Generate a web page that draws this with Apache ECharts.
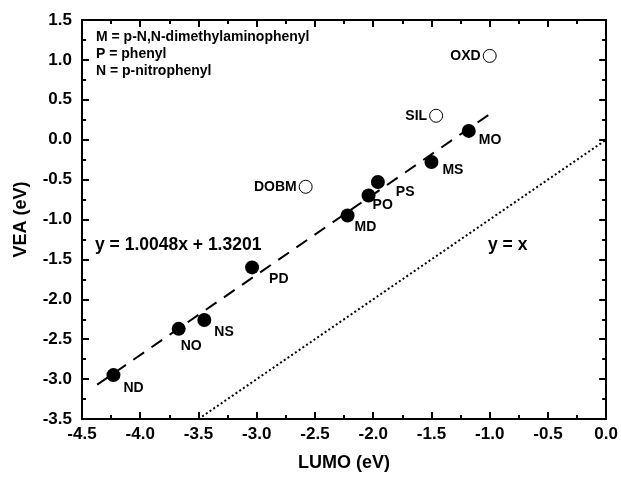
<!DOCTYPE html>
<html>
<head>
<meta charset="utf-8">
<script src="https://cdn.jsdelivr.net/npm/echarts@6/dist/echarts.min.js"></script>
<style>
  html, body { margin: 0; padding: 0; background: #fff; }
  #chart { width: 621px; height: 477px; }
</style>
</head>
<body>
<div id="chart"></div>
<script>
// compounds with filled markers
var filledNames = ['ND', 'NO', 'NS', 'PD', 'MD', 'PO', 'PS', 'MS', 'MO'];
var filledLumo = [-4.23, -3.67, -3.45, -3.04, -2.22, -2.04, -1.96, -1.50, -1.18];
var filledVea = [-2.95, -2.37, -2.26, -1.60, -0.95, -0.70, -0.53, -0.28, 0.11];

// compounds with open markers
var openNames = ['DOBM', 'SIL', 'OXD'];
var openLumo = [-2.58, -1.46, -1.00];
var openVea = [-0.59, 0.30, 1.05];

// fit line y = 1.0048x + 1.3201 and y = x
var fitLumo = [-4.37, -0.95];
var fitVea = [-3.07, 0.37];
var unityLumo = [-3.5, 0.0];
var unityVea = [-3.5, 0.0];

// label offsets (px from marker centre) for the filled points
var labelOffsets = [[10, 13], [2, 17], [10, 12], [17, 12], [7, 12], [4, 10], [18, 10], [11, 8], [10, 9]];

var font = 'Liberation Sans, Arial, sans-serif';

function pairs(xs, ys) {
  return xs.map(function (x, i) { return [x, ys[i]]; });
}

var filledData = filledLumo.map(function (x, i) {
  return {
    name: filledNames[i],
    value: [x, filledVea[i]],
    label: { offset: [labelOffsets[i][0] - 7, labelOffsets[i][1]] }
  };
});
var openData = openLumo.map(function (x, i) {
  return { name: openNames[i], value: [x, openVea[i]] };
});

function tickFmt(v) { return v.toFixed(1); }

function baseAxis(extra) {
  var ax = {
    type: 'value',
    interval: 0.5,
    axisLine: { show: true, onZero: false, lineStyle: { color: '#000', width: 2 } },
    axisTick: { show: true, inside: true, length: 7, lineStyle: { color: '#000', width: 2 } },
    minorTick: { show: true, splitNumber: 2, length: 4, lineStyle: { color: '#000', width: 2 } },
    splitLine: { show: false },
    axisLabel: { show: false }
  };
  for (var k in extra) ax[k] = extra[k];
  return ax;
}

var chart = echarts.init(document.getElementById('chart'));
var option = {
  animation: false,
  grid: { left: 82, right: 13, top: 20, bottom: 58 },
  xAxis: [
    baseAxis({
      min: -4.5, max: 0, position: 'bottom',
      name: 'LUMO (eV)', nameLocation: 'middle', nameGap: 35,
      nameTextStyle: { color: '#000', fontSize: 18, fontWeight: 'bold', fontFamily: font },
      axisLabel: { color: '#000', fontSize: 17, fontWeight: 'bold', fontFamily: font, margin: 7, formatter: tickFmt }
    }),
    baseAxis({ min: -4.5, max: 0, position: 'top' })
  ],
  yAxis: [
    baseAxis({
      min: -3.5, max: 1.5, position: 'left',
      name: 'VEA (eV)', nameLocation: 'middle', nameGap: 52,
      nameTextStyle: { color: '#000', fontSize: 18, fontWeight: 'bold', fontFamily: font },
      axisLabel: { color: '#000', fontSize: 17, fontWeight: 'bold', fontFamily: font, margin: 10, formatter: tickFmt }
    }),
    baseAxis({ min: -3.5, max: 1.5, position: 'right' })
  ],
  series: [
    {
      type: 'line', data: pairs(fitLumo, fitVea), symbol: 'none', z: 2,
      lineStyle: { color: '#000', width: 2, type: [13, 9] }
    },
    {
      type: 'line', data: pairs(unityLumo, unityVea), symbol: 'none', z: 2,
      lineStyle: { color: '#000', width: 2, type: [2, 2.5] }
    },
    {
      type: 'scatter', data: filledData, symbol: 'circle', symbolSize: 14, z: 3,
      itemStyle: { color: '#000', opacity: 1 },
      label: {
        show: true, position: 'right', distance: 0,
        formatter: '{b}', color: '#000', fontSize: 14, fontWeight: 'bold', fontFamily: font
      }
    },
    {
      type: 'scatter', data: openData, symbol: 'circle', symbolSize: 13, z: 3,
      itemStyle: { color: '#fff', borderColor: '#000', borderWidth: 1, opacity: 1 },
      label: {
        show: true, position: 'left', distance: 2,
        formatter: '{b}', color: '#000', fontSize: 14, fontWeight: 'bold', fontFamily: font
      }
    }
  ],
  graphic: [
    { type: 'text', left: 96, top: 30, style: { text: 'M = p-N,N-dimethylaminophenyl', fill: '#000', font: 'bold 14px ' + font } },
    { type: 'text', left: 96, top: 47, style: { text: 'P = phenyl', fill: '#000', font: 'bold 14px ' + font } },
    { type: 'text', left: 96, top: 64, style: { text: 'N = p-nitrophenyl', fill: '#000', font: 'bold 14px ' + font } },
    { type: 'text', left: 95, top: 236, style: { text: 'y = 1.0048x + 1.3201', fill: '#000', font: 'bold 17.5px ' + font } },
    { type: 'text', left: 488, top: 236, style: { text: 'y = x', fill: '#000', font: 'bold 17.5px ' + font } }
  ]
};
chart.setOption(option);
</script>
</body>
</html>
